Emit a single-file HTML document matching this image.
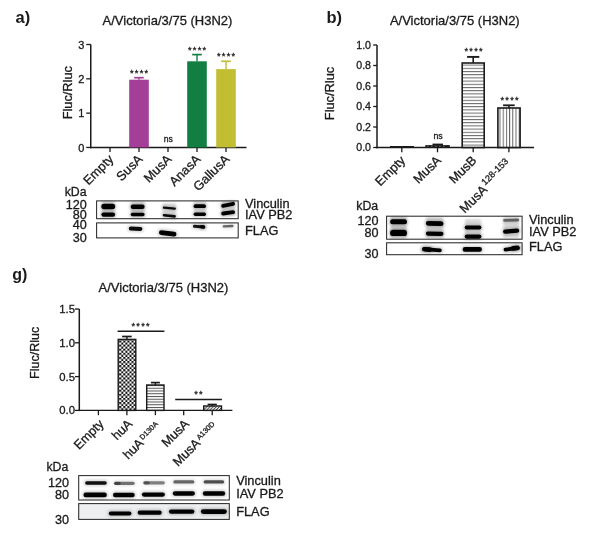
<!DOCTYPE html><html><head><meta charset="utf-8"><style>html,body{margin:0;padding:0;background:#fff;overflow:hidden}svg{display:block}</style></head><body>
<svg width="602" height="535" viewBox="0 0 602 535" font-family="'Liberation Sans', sans-serif">
<defs>
<filter id="b3" filterUnits="userSpaceOnUse" x="0" y="0" width="602" height="535"><feGaussianBlur stdDeviation="0.3"/></filter>
<filter id="b5" filterUnits="userSpaceOnUse" x="0" y="0" width="602" height="535"><feGaussianBlur stdDeviation="0.5"/></filter>
<filter id="b7" filterUnits="userSpaceOnUse" x="0" y="0" width="602" height="535"><feGaussianBlur stdDeviation="0.7"/></filter>
<filter id="b9" filterUnits="userSpaceOnUse" x="0" y="0" width="602" height="535"><feGaussianBlur stdDeviation="0.9"/></filter>
<filter id="b10" filterUnits="userSpaceOnUse" x="0" y="0" width="602" height="535"><feGaussianBlur stdDeviation="1.0"/></filter>
<filter id="b12" filterUnits="userSpaceOnUse" x="0" y="0" width="602" height="535"><feGaussianBlur stdDeviation="1.2"/></filter>
<filter id="b15" filterUnits="userSpaceOnUse" x="0" y="0" width="602" height="535"><feGaussianBlur stdDeviation="1.5"/></filter>
<pattern id="hstripe" width="4" height="3.2" patternUnits="userSpaceOnUse" y="0.6"><rect width="4" height="3.2" fill="#fff"/><rect y="0" width="4" height="1" fill="#666"/></pattern>
<pattern id="vstripe" width="3.2" height="4" patternUnits="userSpaceOnUse" x="0.3"><rect width="3.2" height="4" fill="#fff"/><rect x="0" width="1" height="4" fill="#666"/></pattern>
<pattern id="hstripe2" width="4" height="2.75" patternUnits="userSpaceOnUse"><rect width="4" height="2.75" fill="#fff"/><rect y="0" width="4" height="1" fill="#555"/></pattern>
<pattern id="checker" width="4.1" height="4.1" patternUnits="userSpaceOnUse" x="0.3" y="0.2"><rect width="4.1" height="4.1" fill="#fff"/><rect width="2.05" height="2.05" fill="#111"/><rect x="2.05" y="2.05" width="2.05" height="2.05" fill="#111"/></pattern>
<pattern id="diag" width="2.2" height="3" patternUnits="userSpaceOnUse" patternTransform="rotate(45)"><rect width="2.2" height="3" fill="#fff"/><rect width="1" height="3" fill="#444"/></pattern>
</defs>
<rect width="602" height="535" fill="#fff"/>
<text x="15.5" y="23.3" font-size="16.5" text-anchor="start" font-weight="bold" fill="#1a1a1a"  >a)</text>
<text x="167.5" y="25.3" font-size="13" text-anchor="middle" font-weight="normal" fill="#1a1a1a" stroke="#1a1a1a" stroke-width="0.3" >A/Victoria/3/75 (H3N2)</text>
<line x1="90.75" y1="44.5" x2="90.75" y2="148.14999999999998" stroke="#1a1a1a" stroke-width="1.5"/>
<line x1="86.25" y1="147.45" x2="90.75" y2="147.45" stroke="#1a1a1a" stroke-width="1.3"/>
<text x="84.45" y="151.75" font-size="11" text-anchor="end" font-weight="normal" fill="#1a1a1a" stroke="#1a1a1a" stroke-width="0.3" >0</text>
<line x1="86.25" y1="113.13333333333333" x2="90.75" y2="113.13333333333333" stroke="#1a1a1a" stroke-width="1.3"/>
<text x="84.45" y="117.43333333333332" font-size="11" text-anchor="end" font-weight="normal" fill="#1a1a1a" stroke="#1a1a1a" stroke-width="0.3" >1</text>
<line x1="86.25" y1="78.81666666666666" x2="90.75" y2="78.81666666666666" stroke="#1a1a1a" stroke-width="1.3"/>
<text x="84.45" y="83.11666666666666" font-size="11" text-anchor="end" font-weight="normal" fill="#1a1a1a" stroke="#1a1a1a" stroke-width="0.3" >2</text>
<line x1="86.25" y1="44.5" x2="90.75" y2="44.5" stroke="#1a1a1a" stroke-width="1.3"/>
<text x="84.45" y="48.8" font-size="11" text-anchor="end" font-weight="normal" fill="#1a1a1a" stroke="#1a1a1a" stroke-width="0.3" >3</text>
<text transform="translate(72.3,92.7) rotate(-90)" font-size="12.8" text-anchor="middle" fill="#1a1a1a" stroke="#1a1a1a" stroke-width="0.3">Fluc/Rluc</text>
<line x1="90.05" y1="147.45" x2="246.5" y2="147.45" stroke="#1a1a1a" stroke-width="1.4"/>
<line x1="110" y1="147.45" x2="110" y2="151.95" stroke="#1a1a1a" stroke-width="1.3"/>
<line x1="139" y1="147.45" x2="139" y2="151.95" stroke="#1a1a1a" stroke-width="1.3"/>
<line x1="168" y1="147.45" x2="168" y2="151.95" stroke="#1a1a1a" stroke-width="1.3"/>
<line x1="197" y1="147.45" x2="197" y2="151.95" stroke="#1a1a1a" stroke-width="1.3"/>
<line x1="226" y1="147.45" x2="226" y2="151.95" stroke="#1a1a1a" stroke-width="1.3"/>
<rect x="129.2" y="79.7" width="19.6" height="67.74999999999999" fill="#a43f97" stroke="none" stroke-width="0" />
<line x1="139" y1="79.7" x2="139" y2="77.7" stroke="#a43f97" stroke-width="1.4"/>
<line x1="134.2" y1="77.7" x2="143.8" y2="77.7" stroke="#a43f97" stroke-width="1.7"/>
<rect x="187.2" y="61.3" width="19.6" height="86.14999999999999" fill="#127e42" stroke="none" stroke-width="0" />
<line x1="197" y1="61.3" x2="197" y2="54.6" stroke="#127e42" stroke-width="1.4"/>
<line x1="192.2" y1="54.6" x2="201.8" y2="54.6" stroke="#127e42" stroke-width="1.7"/>
<rect x="216.2" y="69.1" width="19.6" height="78.35" fill="#c2be34" stroke="none" stroke-width="0" />
<line x1="226" y1="69.1" x2="226" y2="61.3" stroke="#c2be34" stroke-width="1.4"/>
<line x1="221.2" y1="61.3" x2="230.8" y2="61.3" stroke="#c2be34" stroke-width="1.7"/>
<text x="139.65" y="76.23" font-size="9.2" text-anchor="middle" fill="#1a1a1a" stroke="#1a1a1a" stroke-width="0.3" letter-spacing="1.3">****</text>
<text x="197.65" y="52.83" font-size="9.2" text-anchor="middle" fill="#1a1a1a" stroke="#1a1a1a" stroke-width="0.3" letter-spacing="1.3">****</text>
<text x="226.65" y="59.13" font-size="9.2" text-anchor="middle" fill="#1a1a1a" stroke="#1a1a1a" stroke-width="0.3" letter-spacing="1.3">****</text>
<text x="168.2" y="142" font-size="8.6" text-anchor="middle" font-weight="normal" fill="#1a1a1a" stroke="#1a1a1a" stroke-width="0.3" >ns</text>
<text transform="translate(114.2,160.04999999999998) rotate(-45)" font-size="12.8" text-anchor="end" fill="#1a1a1a" stroke="#1a1a1a" stroke-width="0.3">Empty</text>
<text transform="translate(143.2,160.04999999999998) rotate(-45)" font-size="12.8" text-anchor="end" fill="#1a1a1a" stroke="#1a1a1a" stroke-width="0.3">SusA</text>
<text transform="translate(172.2,160.04999999999998) rotate(-45)" font-size="12.8" text-anchor="end" fill="#1a1a1a" stroke="#1a1a1a" stroke-width="0.3">MusA</text>
<text transform="translate(201.2,160.04999999999998) rotate(-45)" font-size="12.8" text-anchor="end" fill="#1a1a1a" stroke="#1a1a1a" stroke-width="0.3">AnasA</text>
<text transform="translate(230.2,160.04999999999998) rotate(-45)" font-size="12.8" text-anchor="end" fill="#1a1a1a" stroke="#1a1a1a" stroke-width="0.3">GallusA</text>
<text x="86.6" y="195.8" font-size="12.3" text-anchor="end" font-weight="normal" fill="#1a1a1a" stroke="#1a1a1a" stroke-width="0.3" >kDa</text>
<text x="86.8" y="209" font-size="12.6" text-anchor="end" font-weight="normal" fill="#1a1a1a" stroke="#1a1a1a" stroke-width="0.3" >120</text>
<text x="86.8" y="218.5" font-size="12.6" text-anchor="end" font-weight="normal" fill="#1a1a1a" stroke="#1a1a1a" stroke-width="0.3" >80</text>
<text x="86.8" y="229.2" font-size="12.6" text-anchor="end" font-weight="normal" fill="#1a1a1a" stroke="#1a1a1a" stroke-width="0.3" >40</text>
<text x="86.8" y="241.5" font-size="12.6" text-anchor="end" font-weight="normal" fill="#1a1a1a" stroke="#1a1a1a" stroke-width="0.3" >30</text>
<rect x="96.6" y="200.9" width="141.6" height="17.8" fill="#fff" stroke="#2a2a2a" stroke-width="1.05" />
<rect x="96.6" y="222.9" width="141.6" height="15" fill="#fff" stroke="#2a2a2a" stroke-width="1.05" />
<rect x="102" y="201.5" width="12.5" height="15.5" fill="#000" opacity="0.15" filter="url(#b9)"/>
<rect x="131" y="201.5" width="13.5" height="15.5" fill="#000" opacity="0.15" filter="url(#b9)"/>
<rect x="162.5" y="203" width="13.5" height="14" fill="#000" opacity="0.12" filter="url(#b9)"/>
<rect x="194" y="201.5" width="12" height="14.5" fill="#000" opacity="0.12" filter="url(#b9)"/>
<rect x="221.5" y="201.5" width="13.5" height="14.5" fill="#000" opacity="0.12" filter="url(#b9)"/>
<path d="M103.98,206.50 L112.52,206.50" stroke="#000" stroke-width="7.70" stroke-linecap="round" fill="none" opacity="0.220" filter="url(#b15)"/>
<path d="M103.98,206.50 L112.52,206.50" stroke="#000" stroke-width="5.300000000000001" stroke-linecap="round" fill="none" opacity="1.0" filter="url(#b7)"/>
<path d="M103.58,214.60 L112.92,214.60" stroke="#000" stroke-width="6.80" stroke-linecap="round" fill="none" opacity="0.220" filter="url(#b15)"/>
<path d="M103.58,214.60 L112.92,214.60" stroke="#000" stroke-width="4.4" stroke-linecap="round" fill="none" opacity="1.0" filter="url(#b7)"/>
<path d="M132.97,206.70 L142.33,206.70" stroke="#000" stroke-width="7.00" stroke-linecap="round" fill="none" opacity="0.220" filter="url(#b15)"/>
<path d="M132.97,206.70 L142.33,206.70" stroke="#000" stroke-width="4.6000000000000005" stroke-linecap="round" fill="none" opacity="1.0" filter="url(#b7)"/>
<path d="M132.52,214.50 L142.78,214.50" stroke="#000" stroke-width="6.00" stroke-linecap="round" fill="none" opacity="0.220" filter="url(#b15)"/>
<path d="M132.52,214.50 L142.78,214.50" stroke="#000" stroke-width="3.6" stroke-linecap="round" fill="none" opacity="1.0" filter="url(#b7)"/>
<path d="M163.94,207.60 L174.77,208.70" stroke="#000" stroke-width="4.70" stroke-linecap="round" fill="none" opacity="0.209" filter="url(#b15)"/>
<path d="M163.94,207.60 L174.77,208.70" stroke="#000" stroke-width="2.3" stroke-linecap="round" fill="none" opacity="0.95" filter="url(#b7)"/>
<path d="M164.07,215.20 L174.63,216.40" stroke="#000" stroke-width="5.00" stroke-linecap="round" fill="none" opacity="0.209" filter="url(#b15)"/>
<path d="M164.07,215.20 L174.63,216.40" stroke="#000" stroke-width="2.6" stroke-linecap="round" fill="none" opacity="0.95" filter="url(#b7)"/>
<path d="M195.51,206.20 L204.09,206.20" stroke="#000" stroke-width="6.20" stroke-linecap="round" fill="none" opacity="0.220" filter="url(#b15)"/>
<path d="M195.51,206.20 L204.09,206.20" stroke="#000" stroke-width="3.8" stroke-linecap="round" fill="none" opacity="1.0" filter="url(#b7)"/>
<path d="M195.33,214.20 L204.27,214.20" stroke="#000" stroke-width="5.80" stroke-linecap="round" fill="none" opacity="0.220" filter="url(#b15)"/>
<path d="M195.33,214.20 L204.27,214.20" stroke="#000" stroke-width="3.4" stroke-linecap="round" fill="none" opacity="1.0" filter="url(#b7)"/>
<path d="M223.11,205.80 L233.09,203.80" stroke="#000" stroke-width="6.20" stroke-linecap="round" fill="none" opacity="0.220" filter="url(#b15)"/>
<path d="M223.11,205.80 L233.09,203.80" stroke="#000" stroke-width="3.8" stroke-linecap="round" fill="none" opacity="1.0" filter="url(#b7)"/>
<path d="M223.11,213.50 L233.09,212.20" stroke="#000" stroke-width="6.20" stroke-linecap="round" fill="none" opacity="0.220" filter="url(#b15)"/>
<path d="M223.11,213.50 L233.09,212.20" stroke="#000" stroke-width="3.8" stroke-linecap="round" fill="none" opacity="1.0" filter="url(#b7)"/>
<path d="M130.71,228.50 L140.49,229.00" stroke="#000" stroke-width="6.20" stroke-linecap="round" fill="none" opacity="0.209" filter="url(#b15)"/>
<path d="M130.71,228.50 L140.49,229.00" stroke="#000" stroke-width="3.8" stroke-linecap="round" fill="none" opacity="0.95" filter="url(#b7)"/>
<path d="M161.36,232.60 L174.04,234.20" stroke="#000" stroke-width="7.20" stroke-linecap="round" fill="none" opacity="0.220" filter="url(#b15)"/>
<path d="M161.36,232.60 L174.04,234.20" stroke="#000" stroke-width="4.800000000000001" stroke-linecap="round" fill="none" opacity="1.0" filter="url(#b7)"/>
<path d="M194.45,226.30 L203.75,226.90" stroke="#000" stroke-width="5.40" stroke-linecap="round" fill="none" opacity="0.198" filter="url(#b15)"/>
<path d="M194.45,226.30 L203.75,226.90" stroke="#000" stroke-width="3.0" stroke-linecap="round" fill="none" opacity="0.9" filter="url(#b7)"/>
<path d="M201.62,226.80 L203.48,227.00" stroke="#000" stroke-width="6.00" stroke-linecap="round" fill="none" opacity="0.198" filter="url(#b15)"/>
<path d="M201.62,226.80 L203.48,227.00" stroke="#000" stroke-width="3.6" stroke-linecap="round" fill="none" opacity="0.9" filter="url(#b7)"/>
<path d="M223.88,226.40 L232.32,226.00" stroke="#000" stroke-width="4.80" stroke-linecap="round" fill="none" opacity="0.121" filter="url(#b15)"/>
<path d="M223.88,226.40 L232.32,226.00" stroke="#000" stroke-width="2.4" stroke-linecap="round" fill="none" opacity="0.55" filter="url(#b7)"/>
<text x="245" y="208.2" font-size="12.8" text-anchor="start" font-weight="normal" fill="#1a1a1a" stroke="#1a1a1a" stroke-width="0.3" >Vinculin</text>
<text x="245" y="219.4" font-size="12.8" text-anchor="start" font-weight="normal" fill="#1a1a1a" stroke="#1a1a1a" stroke-width="0.3" >IAV PB2</text>
<text x="245" y="234.9" font-size="12.8" text-anchor="start" font-weight="normal" fill="#1a1a1a" stroke="#1a1a1a" stroke-width="0.3" >FLAG</text>
<text x="326.5" y="22.6" font-size="16.5" text-anchor="start" font-weight="bold" fill="#1a1a1a"  >b)</text>
<text x="454.8" y="25.3" font-size="13" text-anchor="middle" font-weight="normal" fill="#1a1a1a" stroke="#1a1a1a" stroke-width="0.3" >A/Victoria/3/75 (H3N2)</text>
<line x1="377" y1="45" x2="377" y2="148.2" stroke="#1a1a1a" stroke-width="1.5"/>
<line x1="373.2" y1="147.5" x2="377" y2="147.5" stroke="#1a1a1a" stroke-width="1.3"/>
<text x="371" y="151.2" font-size="10.6" text-anchor="end" font-weight="normal" fill="#1a1a1a" stroke="#1a1a1a" stroke-width="0.3" >0.0</text>
<line x1="373.2" y1="127.0" x2="377" y2="127.0" stroke="#1a1a1a" stroke-width="1.3"/>
<text x="371" y="130.7" font-size="10.6" text-anchor="end" font-weight="normal" fill="#1a1a1a" stroke="#1a1a1a" stroke-width="0.3" >0.2</text>
<line x1="373.2" y1="106.5" x2="377" y2="106.5" stroke="#1a1a1a" stroke-width="1.3"/>
<text x="371" y="110.2" font-size="10.6" text-anchor="end" font-weight="normal" fill="#1a1a1a" stroke="#1a1a1a" stroke-width="0.3" >0.4</text>
<line x1="373.2" y1="86.0" x2="377" y2="86.0" stroke="#1a1a1a" stroke-width="1.3"/>
<text x="371" y="89.7" font-size="10.6" text-anchor="end" font-weight="normal" fill="#1a1a1a" stroke="#1a1a1a" stroke-width="0.3" >0.6</text>
<line x1="373.2" y1="65.5" x2="377" y2="65.5" stroke="#1a1a1a" stroke-width="1.3"/>
<text x="371" y="69.2" font-size="10.6" text-anchor="end" font-weight="normal" fill="#1a1a1a" stroke="#1a1a1a" stroke-width="0.3" >0.8</text>
<line x1="373.2" y1="45.0" x2="377" y2="45.0" stroke="#1a1a1a" stroke-width="1.3"/>
<text x="371" y="48.7" font-size="10.6" text-anchor="end" font-weight="normal" fill="#1a1a1a" stroke="#1a1a1a" stroke-width="0.3" >1.0</text>
<text transform="translate(333.8,93.5) rotate(-90)" font-size="12.8" text-anchor="middle" fill="#1a1a1a" stroke="#1a1a1a" stroke-width="0.3">Fluc/Rluc</text>
<line x1="376.3" y1="147.5" x2="534" y2="147.5" stroke="#1a1a1a" stroke-width="1.4"/>
<line x1="401.8" y1="147.5" x2="401.8" y2="152.3" stroke="#1a1a1a" stroke-width="1.3"/>
<line x1="437.5" y1="147.5" x2="437.5" y2="152.3" stroke="#1a1a1a" stroke-width="1.3"/>
<line x1="473.2" y1="147.5" x2="473.2" y2="152.3" stroke="#1a1a1a" stroke-width="1.3"/>
<line x1="508.9" y1="147.5" x2="508.9" y2="152.3" stroke="#1a1a1a" stroke-width="1.3"/>
<line x1="390" y1="146.8" x2="414" y2="146.8" stroke="#1a1a1a" stroke-width="1.6"/>
<rect x="425.3" y="145.1" width="24.5" height="2.6" fill="#1a1a1a" stroke="none" stroke-width="0" />
<path d="M427,146.3 h1.6 M431,146.3 h1.6 M435,146.3 h1.6 M439,146.3 h1.6 M443,146.3 h1.6" stroke="#777" stroke-width="0.8"/>
<rect x="432.5" y="143.6" width="10.5" height="1.8" fill="#1a1a1a" stroke="none" stroke-width="0" />
<text x="438.1" y="138.6" font-size="8.8" text-anchor="middle" font-weight="normal" fill="#1a1a1a" stroke="#1a1a1a" stroke-width="0.3" >ns</text>
<rect x="462.2" y="63.0" width="22" height="84.5" fill="url(#hstripe)" stroke="#1a1a1a" stroke-width="1.6" />
<line x1="473.2" y1="63.0" x2="473.2" y2="56.9" stroke="#1a1a1a" stroke-width="1.6"/>
<line x1="467.09999999999997" y1="56.9" x2="479.3" y2="56.9" stroke="#1a1a1a" stroke-width="1.9000000000000001"/>
<text x="474.15" y="53.63" font-size="9.2" text-anchor="middle" fill="#1a1a1a" stroke="#1a1a1a" stroke-width="0.3" letter-spacing="1.3">****</text>
<rect x="497.9" y="108" width="22.2" height="39.5" fill="url(#vstripe)" stroke="#1a1a1a" stroke-width="1.6" />
<line x1="508.9" y1="108" x2="508.9" y2="105.3" stroke="#1a1a1a" stroke-width="1.5"/>
<line x1="503.09999999999997" y1="105.3" x2="514.6999999999999" y2="105.3" stroke="#1a1a1a" stroke-width="1.8"/>
<text x="510.25" y="103.33" font-size="9.2" text-anchor="middle" fill="#1a1a1a" stroke="#1a1a1a" stroke-width="0.3" letter-spacing="1.3">****</text>
<text transform="translate(406.0,161.1) rotate(-45)" font-size="12.8" text-anchor="end" fill="#1a1a1a" stroke="#1a1a1a" stroke-width="0.3">Empty</text>
<text transform="translate(441.7,161.1) rotate(-45)" font-size="12.8" text-anchor="end" fill="#1a1a1a" stroke="#1a1a1a" stroke-width="0.3">MusA</text>
<text transform="translate(477.4,161.1) rotate(-45)" font-size="12.8" text-anchor="end" fill="#1a1a1a" stroke="#1a1a1a" stroke-width="0.3">MusB</text>
<g transform="translate(508.9,162.0) rotate(-45)"><text x="0" y="0" font-size="9.2" text-anchor="end" fill="#1a1a1a" stroke="#1a1a1a" stroke-width="0.3">128-153</text><text x="-34.96" y="5.4" font-size="12.8" text-anchor="end" fill="#1a1a1a" stroke="#1a1a1a" stroke-width="0.3">MusA</text></g>
<text x="378.2" y="210" font-size="12.3" text-anchor="end" font-weight="normal" fill="#1a1a1a" stroke="#1a1a1a" stroke-width="0.3" >kDa</text>
<text x="378.4" y="224.9" font-size="12.6" text-anchor="end" font-weight="normal" fill="#1a1a1a" stroke="#1a1a1a" stroke-width="0.3" >120</text>
<text x="378.4" y="236.5" font-size="12.6" text-anchor="end" font-weight="normal" fill="#1a1a1a" stroke="#1a1a1a" stroke-width="0.3" >80</text>
<text x="378.4" y="257.8" font-size="12.6" text-anchor="end" font-weight="normal" fill="#1a1a1a" stroke="#1a1a1a" stroke-width="0.3" >30</text>
<rect x="386.6" y="216.2" width="135.5" height="23" fill="#fff" stroke="#2a2a2a" stroke-width="1.05" />
<rect x="386.6" y="242.8" width="135.5" height="11.9" fill="#fff" stroke="#2a2a2a" stroke-width="1.05" />
<rect x="390.5" y="217" width="16.19999999999999" height="21" fill="#000" opacity="0.2" filter="url(#b9)"/>
<rect x="426.1" y="217" width="17.19999999999999" height="21" fill="#000" opacity="0.17" filter="url(#b9)"/>
<rect x="465" y="219" width="16.19999999999999" height="19" fill="#000" opacity="0.15" filter="url(#b9)"/>
<rect x="503.3" y="217" width="15.699999999999989" height="21" fill="#000" opacity="0.15" filter="url(#b9)"/>
<path d="M392.65,221.80 L404.45,221.80" stroke="#000" stroke-width="7.40" stroke-linecap="round" fill="none" opacity="0.220" filter="url(#b15)"/>
<path d="M392.65,221.80 L404.45,221.80" stroke="#000" stroke-width="5.0" stroke-linecap="round" fill="none" opacity="1.0" filter="url(#b7)"/>
<path d="M393.28,232.90 L403.82,232.90" stroke="#000" stroke-width="8.80" stroke-linecap="round" fill="none" opacity="0.220" filter="url(#b15)"/>
<path d="M393.28,232.90 L403.82,232.90" stroke="#000" stroke-width="6.4" stroke-linecap="round" fill="none" opacity="1.0" filter="url(#b7)"/>
<path d="M428.26,223.40 L441.14,223.60" stroke="#000" stroke-width="7.20" stroke-linecap="round" fill="none" opacity="0.220" filter="url(#b15)"/>
<path d="M428.26,223.40 L441.14,223.60" stroke="#000" stroke-width="4.800000000000001" stroke-linecap="round" fill="none" opacity="1.0" filter="url(#b7)"/>
<path d="M427.99,233.60 L441.41,233.80" stroke="#000" stroke-width="6.60" stroke-linecap="round" fill="none" opacity="0.220" filter="url(#b15)"/>
<path d="M427.99,233.60 L441.41,233.80" stroke="#000" stroke-width="4.2" stroke-linecap="round" fill="none" opacity="1.0" filter="url(#b7)"/>
<path d="M466.61,227.50 L479.49,227.50" stroke="#000" stroke-width="6.20" stroke-linecap="round" fill="none" opacity="0.220" filter="url(#b15)"/>
<path d="M466.61,227.50 L479.49,227.50" stroke="#000" stroke-width="3.8" stroke-linecap="round" fill="none" opacity="1.0" filter="url(#b7)"/>
<path d="M466.83,236.60 L479.26,236.60" stroke="#000" stroke-width="6.70" stroke-linecap="round" fill="none" opacity="0.220" filter="url(#b15)"/>
<path d="M466.83,236.60 L479.26,236.60" stroke="#000" stroke-width="4.3" stroke-linecap="round" fill="none" opacity="1.0" filter="url(#b7)"/>
<path d="M504.56,220.40 L517.74,220.00" stroke="#000" stroke-width="5.20" stroke-linecap="round" fill="none" opacity="0.110" filter="url(#b15)"/>
<path d="M504.56,220.40 L517.74,220.00" stroke="#000" stroke-width="2.8" stroke-linecap="round" fill="none" opacity="0.5" filter="url(#b7)"/>
<path d="M505.28,231.60 L517.02,230.60" stroke="#000" stroke-width="6.80" stroke-linecap="round" fill="none" opacity="0.220" filter="url(#b15)"/>
<path d="M505.28,231.60 L517.02,230.60" stroke="#000" stroke-width="4.4" stroke-linecap="round" fill="none" opacity="1.0" filter="url(#b7)"/>
<path d="M424.11,249.20 L439.89,250.40" stroke="#000" stroke-width="6.20" stroke-linecap="round" fill="none" opacity="0.220" filter="url(#b15)"/>
<path d="M424.11,249.20 L439.89,250.40" stroke="#000" stroke-width="3.8" stroke-linecap="round" fill="none" opacity="1.0" filter="url(#b7)"/>
<path d="M424.47,249.20 L429.93,249.60" stroke="#000" stroke-width="7.00" stroke-linecap="round" fill="none" opacity="0.220" filter="url(#b15)"/>
<path d="M424.47,249.20 L429.93,249.60" stroke="#000" stroke-width="4.6000000000000005" stroke-linecap="round" fill="none" opacity="1.0" filter="url(#b7)"/>
<path d="M464.97,249.40 L479.63,249.40" stroke="#000" stroke-width="7.00" stroke-linecap="round" fill="none" opacity="0.220" filter="url(#b15)"/>
<path d="M464.97,249.40 L479.63,249.40" stroke="#000" stroke-width="4.6000000000000005" stroke-linecap="round" fill="none" opacity="1.0" filter="url(#b7)"/>
<path d="M505.51,249.60 L517.79,247.90" stroke="#000" stroke-width="6.20" stroke-linecap="round" fill="none" opacity="0.220" filter="url(#b15)"/>
<path d="M505.51,249.60 L517.79,247.90" stroke="#000" stroke-width="3.8" stroke-linecap="round" fill="none" opacity="1.0" filter="url(#b7)"/>
<path d="M513.07,248.40 L517.43,247.90" stroke="#000" stroke-width="7.00" stroke-linecap="round" fill="none" opacity="0.220" filter="url(#b15)"/>
<path d="M513.07,248.40 L517.43,247.90" stroke="#000" stroke-width="4.6000000000000005" stroke-linecap="round" fill="none" opacity="1.0" filter="url(#b7)"/>
<text x="529" y="223.6" font-size="12.8" text-anchor="start" font-weight="normal" fill="#1a1a1a" stroke="#1a1a1a" stroke-width="0.3" >Vinculin</text>
<text x="529" y="235.6" font-size="12.8" text-anchor="start" font-weight="normal" fill="#1a1a1a" stroke="#1a1a1a" stroke-width="0.3" >IAV PB2</text>
<text x="529" y="250.7" font-size="12.8" text-anchor="start" font-weight="normal" fill="#1a1a1a" stroke="#1a1a1a" stroke-width="0.3" >FLAG</text>
<text x="12.3" y="279.8" font-size="16" text-anchor="start" font-weight="bold" fill="#1a1a1a"  >g)</text>
<text x="163.5" y="292.2" font-size="13" text-anchor="middle" font-weight="normal" fill="#1a1a1a" stroke="#1a1a1a" stroke-width="0.3" >A/Victoria/3/75 (H3N2)</text>
<line x1="79.3" y1="309" x2="79.3" y2="411.09999999999997" stroke="#1a1a1a" stroke-width="1.5"/>
<line x1="75.0" y1="410.4" x2="79.3" y2="410.4" stroke="#1a1a1a" stroke-width="1.3"/>
<text x="75.0" y="414.4" font-size="11.3" text-anchor="end" font-weight="normal" fill="#1a1a1a" stroke="#1a1a1a" stroke-width="0.3" >0.0</text>
<line x1="75.0" y1="376.59999999999997" x2="79.3" y2="376.59999999999997" stroke="#1a1a1a" stroke-width="1.3"/>
<text x="75.0" y="380.59999999999997" font-size="11.3" text-anchor="end" font-weight="normal" fill="#1a1a1a" stroke="#1a1a1a" stroke-width="0.3" >0.5</text>
<line x1="75.0" y1="342.8" x2="79.3" y2="342.8" stroke="#1a1a1a" stroke-width="1.3"/>
<text x="75.0" y="346.8" font-size="11.3" text-anchor="end" font-weight="normal" fill="#1a1a1a" stroke="#1a1a1a" stroke-width="0.3" >1.0</text>
<line x1="75.0" y1="309.0" x2="79.3" y2="309.0" stroke="#1a1a1a" stroke-width="1.3"/>
<text x="75.0" y="313.0" font-size="11.3" text-anchor="end" font-weight="normal" fill="#1a1a1a" stroke="#1a1a1a" stroke-width="0.3" >1.5</text>
<text transform="translate(39.3,352.9) rotate(-90)" font-size="12.5" text-anchor="middle" fill="#1a1a1a" stroke="#1a1a1a" stroke-width="0.3">Fluc/Rluc</text>
<line x1="78.6" y1="410.4" x2="232.4" y2="410.4" stroke="#1a1a1a" stroke-width="1.4"/>
<line x1="98.4" y1="410.4" x2="98.4" y2="415.2" stroke="#1a1a1a" stroke-width="1.3"/>
<line x1="126.9" y1="410.4" x2="126.9" y2="415.2" stroke="#1a1a1a" stroke-width="1.3"/>
<line x1="155.4" y1="410.4" x2="155.4" y2="415.2" stroke="#1a1a1a" stroke-width="1.3"/>
<line x1="183.7" y1="410.4" x2="183.7" y2="415.2" stroke="#1a1a1a" stroke-width="1.3"/>
<line x1="212.2" y1="410.4" x2="212.2" y2="415.2" stroke="#1a1a1a" stroke-width="1.3"/>
<rect x="118.2" y="339.4" width="17.6" height="71.0" fill="url(#checker)" stroke="#1a1a1a" stroke-width="1.4" />
<line x1="126.9" y1="339.4" x2="126.9" y2="336.5" stroke="#1a1a1a" stroke-width="1.4"/>
<line x1="122.10000000000001" y1="336.5" x2="131.70000000000002" y2="336.5" stroke="#1a1a1a" stroke-width="1.7"/>
<rect x="146.7" y="385" width="17.3" height="25.399999999999977" fill="url(#hstripe2)" stroke="#1a1a1a" stroke-width="1.4" />
<line x1="155.4" y1="385" x2="155.4" y2="382.6" stroke="#1a1a1a" stroke-width="1.4"/>
<line x1="150.9" y1="382.6" x2="159.9" y2="382.6" stroke="#1a1a1a" stroke-width="1.7"/>
<rect x="203.7" y="406" width="17.8" height="4.399999999999977" fill="url(#diag)" stroke="#1a1a1a" stroke-width="1.4" />
<line x1="212.2" y1="406" x2="212.2" y2="404.5" stroke="#1a1a1a" stroke-width="1.4"/>
<line x1="207.6" y1="404.5" x2="216.79999999999998" y2="404.5" stroke="#1a1a1a" stroke-width="1.7"/>
<line x1="117.6" y1="331.3" x2="164.4" y2="331.3" stroke="#1a1a1a" stroke-width="1.6"/>
<text x="141.15" y="329.23" font-size="9.2" text-anchor="middle" fill="#1a1a1a" stroke="#1a1a1a" stroke-width="0.3" letter-spacing="1.3">****</text>
<line x1="175.2" y1="399.5" x2="221.9" y2="399.5" stroke="#1a1a1a" stroke-width="1.6"/>
<text x="199.05" y="397.33" font-size="9.2" text-anchor="middle" fill="#1a1a1a" stroke="#1a1a1a" stroke-width="0.3" letter-spacing="1.3">**</text>
<text transform="translate(104.60000000000001,424.59999999999997) rotate(-45)" font-size="12.8" text-anchor="end" fill="#1a1a1a" stroke="#1a1a1a" stroke-width="0.3">Empty</text>
<text transform="translate(133.1,424.59999999999997) rotate(-45)" font-size="12.8" text-anchor="end" fill="#1a1a1a" stroke="#1a1a1a" stroke-width="0.3">huA</text>
<g transform="translate(158.4,424.4) rotate(-45)"><text x="0" y="0" font-size="7.3" text-anchor="end" fill="#1a1a1a" stroke="#1a1a1a" stroke-width="0.3">D130A</text><text x="-23.72" y="3.8" font-size="12.8" text-anchor="end" fill="#1a1a1a" stroke="#1a1a1a" stroke-width="0.3">huA</text></g>
<text transform="translate(189.89999999999998,424.59999999999997) rotate(-45)" font-size="12.8" text-anchor="end" fill="#1a1a1a" stroke="#1a1a1a" stroke-width="0.3">MusA</text>
<g transform="translate(215.2,424.4) rotate(-45)"><text x="0" y="0" font-size="7.3" text-anchor="end" fill="#1a1a1a" stroke="#1a1a1a" stroke-width="0.3">A130D</text><text x="-23.72" y="3.8" font-size="12.8" text-anchor="end" fill="#1a1a1a" stroke="#1a1a1a" stroke-width="0.3">MusA</text></g>
<text x="68.3" y="471" font-size="12.3" text-anchor="end" font-weight="normal" fill="#1a1a1a" stroke="#1a1a1a" stroke-width="0.3" >kDa</text>
<text x="69.1" y="487.3" font-size="12.6" text-anchor="end" font-weight="normal" fill="#1a1a1a" stroke="#1a1a1a" stroke-width="0.3" >120</text>
<text x="69.1" y="498.9" font-size="12.6" text-anchor="end" font-weight="normal" fill="#1a1a1a" stroke="#1a1a1a" stroke-width="0.3" >80</text>
<text x="69.1" y="523.8" font-size="12.6" text-anchor="end" font-weight="normal" fill="#1a1a1a" stroke="#1a1a1a" stroke-width="0.3" >30</text>
<rect x="78.7" y="475.6" width="150.6" height="24.4" fill="#fff" stroke="#2a2a2a" stroke-width="1.05" />
<rect x="78.7" y="503.6" width="150.6" height="15.8" fill="#eceeef" stroke="#2a2a2a" stroke-width="1.05" />
<path d="M86.88,482.90 L105.02,482.90" stroke="#000" stroke-width="5.90" stroke-linecap="round" fill="none" opacity="0.202" filter="url(#b15)"/>
<path d="M86.88,482.90 L105.02,482.90" stroke="#000" stroke-width="3.5" stroke-linecap="round" fill="none" opacity="0.92" filter="url(#b7)"/>
<path d="M85.81,494.90 L104.48,494.90" stroke="#000" stroke-width="7.10" stroke-linecap="round" fill="none" opacity="0.220" filter="url(#b15)"/>
<path d="M85.81,494.90 L104.48,494.90" stroke="#000" stroke-width="4.7" stroke-linecap="round" fill="none" opacity="1.0" filter="url(#b7)"/>
<path d="M115.94,483.30 L133.06,483.30" stroke="#000" stroke-width="5.60" stroke-linecap="round" fill="none" opacity="0.110" filter="url(#b15)"/>
<path d="M115.94,483.30 L133.06,483.30" stroke="#000" stroke-width="3.1999999999999997" stroke-linecap="round" fill="none" opacity="0.5" filter="url(#b7)"/>
<path d="M115.44,483.30 L119.06,483.30" stroke="#000" stroke-width="3.1999999999999997" stroke-linecap="round" fill="none" opacity="0.4" filter="url(#b7)"/>
<path d="M115.23,495.00 L132.47,495.00" stroke="#000" stroke-width="6.90" stroke-linecap="round" fill="none" opacity="0.220" filter="url(#b15)"/>
<path d="M115.23,495.00 L132.47,495.00" stroke="#000" stroke-width="4.5" stroke-linecap="round" fill="none" opacity="1.0" filter="url(#b7)"/>
<path d="M145.14,482.80 L163.26,482.80" stroke="#000" stroke-width="5.60" stroke-linecap="round" fill="none" opacity="0.099" filter="url(#b15)"/>
<path d="M145.14,482.80 L163.26,482.80" stroke="#000" stroke-width="3.1999999999999997" stroke-linecap="round" fill="none" opacity="0.45" filter="url(#b7)"/>
<path d="M144.64,482.80 L148.06,482.80" stroke="#000" stroke-width="3.1999999999999997" stroke-linecap="round" fill="none" opacity="0.35" filter="url(#b7)"/>
<path d="M144.03,494.60 L162.76,494.60" stroke="#000" stroke-width="6.70" stroke-linecap="round" fill="none" opacity="0.220" filter="url(#b15)"/>
<path d="M144.03,494.60 L162.76,494.60" stroke="#000" stroke-width="4.3" stroke-linecap="round" fill="none" opacity="1.0" filter="url(#b7)"/>
<path d="M174.94,481.90 L192.76,481.90" stroke="#000" stroke-width="5.60" stroke-linecap="round" fill="none" opacity="0.121" filter="url(#b15)"/>
<path d="M174.94,481.90 L192.76,481.90" stroke="#000" stroke-width="3.1999999999999997" stroke-linecap="round" fill="none" opacity="0.55" filter="url(#b7)"/>
<path d="M174.94,493.50 L192.76,493.50" stroke="#000" stroke-width="6.70" stroke-linecap="round" fill="none" opacity="0.220" filter="url(#b15)"/>
<path d="M174.94,493.50 L192.76,493.50" stroke="#000" stroke-width="4.3" stroke-linecap="round" fill="none" opacity="1.0" filter="url(#b7)"/>
<path d="M205.33,481.90 L222.47,481.90" stroke="#000" stroke-width="5.80" stroke-linecap="round" fill="none" opacity="0.143" filter="url(#b15)"/>
<path d="M205.33,481.90 L222.47,481.90" stroke="#000" stroke-width="3.4" stroke-linecap="round" fill="none" opacity="0.65" filter="url(#b7)"/>
<path d="M204.98,493.50 L223.02,493.50" stroke="#000" stroke-width="6.80" stroke-linecap="round" fill="none" opacity="0.220" filter="url(#b15)"/>
<path d="M204.98,493.50 L223.02,493.50" stroke="#000" stroke-width="4.4" stroke-linecap="round" fill="none" opacity="1.0" filter="url(#b7)"/>
<path d="M110.80,513.40 L129.40,513.40" stroke="#000" stroke-width="6.40" stroke-linecap="round" fill="none" opacity="0.220" filter="url(#b15)"/>
<path d="M110.80,513.40 L129.40,513.40" stroke="#000" stroke-width="4.0" stroke-linecap="round" fill="none" opacity="1.0" filter="url(#b7)"/>
<path d="M139.79,512.70 L159.61,512.70" stroke="#000" stroke-width="6.60" stroke-linecap="round" fill="none" opacity="0.220" filter="url(#b15)"/>
<path d="M139.79,512.70 L159.61,512.70" stroke="#000" stroke-width="4.2" stroke-linecap="round" fill="none" opacity="1.0" filter="url(#b7)"/>
<path d="M171.18,511.60 L192.22,511.60" stroke="#000" stroke-width="6.80" stroke-linecap="round" fill="none" opacity="0.220" filter="url(#b15)"/>
<path d="M171.18,511.60 L192.22,511.60" stroke="#000" stroke-width="4.4" stroke-linecap="round" fill="none" opacity="1.0" filter="url(#b7)"/>
<path d="M203.26,511.60 L224.44,511.60" stroke="#000" stroke-width="7.20" stroke-linecap="round" fill="none" opacity="0.220" filter="url(#b15)"/>
<path d="M203.26,511.60 L224.44,511.60" stroke="#000" stroke-width="4.800000000000001" stroke-linecap="round" fill="none" opacity="1.0" filter="url(#b7)"/>
<text x="236.2" y="485.3" font-size="12.8" text-anchor="start" font-weight="normal" fill="#1a1a1a" stroke="#1a1a1a" stroke-width="0.3" >Vinculin</text>
<text x="236.2" y="497.7" font-size="12.8" text-anchor="start" font-weight="normal" fill="#1a1a1a" stroke="#1a1a1a" stroke-width="0.3" >IAV PB2</text>
<text x="236.2" y="515.8" font-size="12.8" text-anchor="start" font-weight="normal" fill="#1a1a1a" stroke="#1a1a1a" stroke-width="0.3" >FLAG</text>
</svg></body></html>
